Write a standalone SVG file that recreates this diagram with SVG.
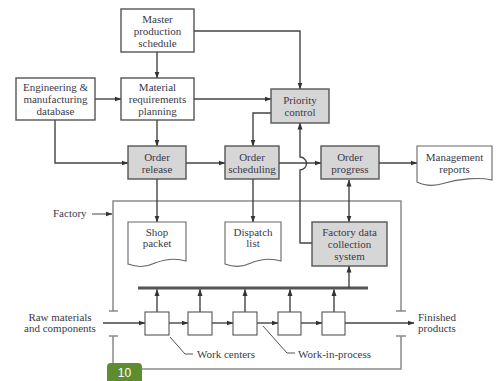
<svg xmlns="http://www.w3.org/2000/svg" width="503" height="381" viewBox="0 0 503 381">
<defs>
<marker id="ah" markerWidth="7" markerHeight="6" refX="6.5" refY="3" orient="auto" markerUnits="userSpaceOnUse">
<path d="M0,0.5 L7,3 L0,5.5 Z" fill="#333"/>
</marker>
<marker id="ahs" markerWidth="7" markerHeight="6" refX="0.5" refY="3" orient="auto" markerUnits="userSpaceOnUse">
<path d="M7,0.5 L0,3 L7,5.5 Z" fill="#333"/>
</marker>
</defs>
<style>
.box{fill:#fff;stroke:#555;stroke-width:1.4}
.gbox{fill:#d6d6d6;stroke:#555;stroke-width:1.4}
.doc{fill:#fff;stroke:#666;stroke-width:1.1}
.wc{fill:#fff;stroke:#555;stroke-width:1.1}
.t{font-family:"Liberation Serif","Times New Roman",serif;font-size:11px;fill:#3a3a4a;text-anchor:middle}
.tl{font-family:"Liberation Serif","Times New Roman",serif;font-size:11px;fill:#3a3a4a}
.c{fill:none;stroke:#444;stroke-width:1.4}
.ca{fill:none;stroke:#444;stroke-width:1.4;marker-end:url(#ah)}
.f{fill:none;stroke:#8a8a8a;stroke-width:1.5}
.bus{fill:none;stroke:#555;stroke-width:3}
.ld{fill:none;stroke:#555;stroke-width:1}
</style>
<rect width="503" height="381" fill="#fff"/>

<g id="factory-boundary">
<path class="f" d="M113,311 V201 H401 V311"/>
<path class="f" d="M113,336 V369 H401 V336"/>
<path class="f" d="M109,311 H118 M109,336 H118 M396,311 H406 M396,336 H406"/>
</g>

<g id="connectors">
<path class="ca" d="M157,52 V78"/>
<path class="ca" d="M95,99 H121"/>
<path class="ca" d="M157,120 V146"/>
<path class="ca" d="M55,120 V163 H128"/>
<path class="ca" d="M194,31 H300 V89"/>
<path class="ca" d="M194,99 H271"/>
<path class="ca" d="M271,113 H253 V146"/>
<path class="ca" d="M186,163 H225"/>
<path class="ca" d="M279,163 H321"/>
<path class="ca" d="M312,243 H300 V170 A6.5,6.5 0 0 0 300,157 V123"/>
<path class="ca" d="M379,163 H417"/>
<path class="ca" d="M157,179 V222"/>
<path class="ca" d="M253,179 V222"/>
<path class="ca" d="M349,180 V222" style="marker-start:url(#ahs)"/>
<path class="bus" d="M138,288 H368"/>
<path class="ca" d="M349,288 V266"/>
<path class="ca" d="M157,312 V289.5"/>
<path class="ca" d="M200,312 V289.5"/>
<path class="ca" d="M245,312 V289.5"/>
<path class="ca" d="M290,312 V289.5"/>
<path class="ca" d="M334,312 V289.5"/>
<path class="ca" d="M103,323 H145"/>
<path class="ca" d="M169,323 H188"/>
<path class="ca" d="M212,323 H233"/>
<path class="ca" d="M257,323 H278"/>
<path class="ca" d="M301,323 H322"/>
<path class="ca" d="M345,323 H414"/>
<path class="ca" d="M92,214 H112" style="stroke-width:1"/>
<path class="ld" d="M170,337 L185,354 H193"/>
<path class="ld" d="M263,326 L287,353 H295"/>
</g>

<g id="master-production-schedule">
<rect class="box" x="121" y="9" width="73" height="43"/>
<text class="t" x="157.5" y="22.5">Master</text>
<text class="t" x="157.5" y="34.5">production</text>
<text class="t" x="157.5" y="46.5">schedule</text>
</g>

<g id="engineering-database">
<rect class="box" x="16" y="78" width="79" height="42"/>
<text class="t" x="55.5" y="90.5">Engineering &amp;</text>
<text class="t" x="55.5" y="102.5">manufacturing</text>
<text class="t" x="55.5" y="114.5">database</text>
</g>

<g id="material-requirements-planning">
<rect class="box" x="121" y="78" width="73" height="42"/>
<text class="t" x="157.5" y="90.5">Material</text>
<text class="t" x="157.5" y="102.5">requirements</text>
<text class="t" x="157.5" y="114.5">planning</text>
</g>

<g id="priority-control">
<rect class="gbox" x="271" y="89" width="58" height="34"/>
<text class="t" x="300" y="103.5">Priority</text>
<text class="t" x="300" y="115.5">control</text>
</g>

<g id="order-release">
<rect class="gbox" x="128" y="146" width="58" height="33"/>
<text class="t" x="157" y="160.5">Order</text>
<text class="t" x="157" y="172.5">release</text>
</g>

<g id="order-scheduling">
<rect class="gbox" x="225" y="146" width="54" height="33"/>
<text class="t" x="252" y="160.5">Order</text>
<text class="t" x="252" y="172.5">scheduling</text>
</g>

<g id="order-progress">
<rect class="gbox" x="321" y="146" width="58" height="33"/>
<text class="t" x="350" y="160.5">Order</text>
<text class="t" x="350" y="172.5">progress</text>
</g>

<g id="management-reports">
<path class="doc" d="M417,146 H492 V180 C478,177 458,179 445,183 C433,187 425,186 417,182 Z"/>
<text class="t" x="454.5" y="160.5">Management</text>
<text class="t" x="454.5" y="172.5">reports</text>
</g>

<g id="shop-packet">
<path class="doc" d="M128,222 H186 V261 C176,258 165,259 155,263 C145,268 136,267 128,264 Z"/>
<text class="t" x="157" y="235.5">Shop</text>
<text class="t" x="157" y="247">packet</text>
</g>

<g id="dispatch-list">
<path class="doc" d="M225,222 H281 V261 C271,258 261,259 251,263 C241,268 233,267 225,264 Z"/>
<text class="t" x="253" y="235.5">Dispatch</text>
<text class="t" x="253" y="247">list</text>
</g>

<g id="factory-data-collection">
<rect class="gbox" x="312" y="222" width="75" height="44"/>
<text class="t" x="349.5" y="235.5">Factory data</text>
<text class="t" x="349.5" y="247.5">collection</text>
<text class="t" x="349.5" y="259.5">system</text>
</g>

<g id="work-centers">
<rect class="wc" x="145" y="312" width="24" height="23"/>
<rect class="wc" x="188" y="312" width="24" height="23"/>
<rect class="wc" x="233" y="312" width="24" height="23"/>
<rect class="wc" x="278" y="312" width="23" height="23"/>
<rect class="wc" x="322" y="312" width="23" height="23"/>
</g>

<g id="labels">
<text class="tl" x="53" y="217">Factory</text>
<text class="t" x="60" y="320.5">Raw materials</text>
<text class="t" x="60" y="332">and components</text>
<text class="tl" x="418" y="320.5">Finished</text>
<text class="tl" x="418" y="332">products</text>
<text class="tl" x="197" y="357.5">Work centers</text>
<text class="tl" x="298" y="357.5">Work-in-process</text>
</g>

<g id="badge">
<rect x="107" y="363" width="35" height="26" rx="4" fill="#5e8c2f"/>
<text x="124.5" y="377" font-family="'Liberation Sans',Arial,sans-serif" font-size="12" fill="#fff" text-anchor="middle">10</text>
</g>
</svg>
